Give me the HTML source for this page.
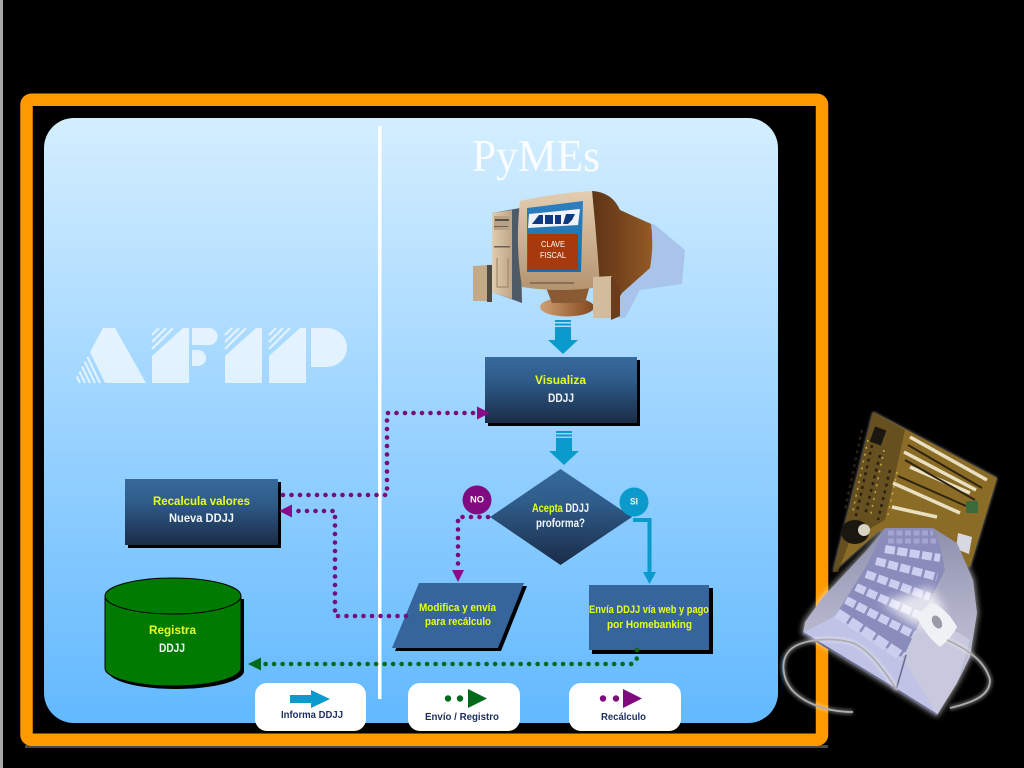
<!DOCTYPE html>
<html><head><meta charset="utf-8"><style>
html,body{margin:0;padding:0;background:#000;width:1024px;height:768px;overflow:hidden}
svg{display:block}
text{font-family:"Liberation Sans",sans-serif;font-weight:bold;font-size:12px;text-anchor:start}
.y{fill:#e8ff20}.w{fill:#f2f6fa}.n{fill:#1b2f5e}
</style></head><body>
<svg width="1024" height="768" viewBox="0 0 1024 768" xmlns="http://www.w3.org/2000/svg">
<defs>
<linearGradient id="pg" x1="0" y1="0" x2="0" y2="1"><stop offset="0" stop-color="#d4eeff"/><stop offset="1" stop-color="#62b9ff"/></linearGradient>
<linearGradient id="bx" x1="0" y1="0" x2="0" y2="1"><stop offset="0" stop-color="#366a9c"/><stop offset=".35" stop-color="#2f5c8a"/><stop offset="1" stop-color="#1a2c47"/></linearGradient>
<linearGradient id="mon" x1="0" y1="0" x2="0" y2="1"><stop offset="0" stop-color="#e4cdb0"/><stop offset="1" stop-color="#b4946f"/></linearGradient>
<linearGradient id="side" x1="0" y1="0" x2="1" y2="0"><stop offset="0" stop-color="#5e3417"/><stop offset=".45" stop-color="#74431c"/><stop offset="1" stop-color="#955a26"/></linearGradient>
<linearGradient id="scr" x1="0" y1="0" x2="0" y2="1"><stop offset="0" stop-color="#2d7fc0"/><stop offset="1" stop-color="#1a6fa8"/></linearGradient>
<linearGradient id="twr" x1="0" y1="0" x2="1" y2="0"><stop offset="0" stop-color="#e0ccb0"/><stop offset="1" stop-color="#bfa585"/></linearGradient>
<linearGradient id="stand" x1="0" y1="0" x2="1" y2="0"><stop offset="0" stop-color="#cfa072"/><stop offset="1" stop-color="#84471e"/></linearGradient>
<linearGradient id="rs" x1="0" y1="0" x2="0" y2="1"><stop offset="0" stop-color="#8e90ac"/><stop offset=".5" stop-color="#b4b4cc"/><stop offset="1" stop-color="#c8c8da"/></linearGradient>
<filter id="gl" x="-20%" y="-20%" width="140%" height="140%"><feGaussianBlur stdDeviation="3"/></filter>
<filter id="sf" x="-10%" y="-10%" width="120%" height="120%"><feGaussianBlur stdDeviation="1.6"/></filter>
<filter id="hz" x="-30%" y="-30%" width="160%" height="160%"><feGaussianBlur stdDeviation="5"/></filter>
</defs>
<rect width="1024" height="768" fill="#000"/>
<rect x="0" y="0" width="3" height="768" fill="#a8a8a8"/>
<rect x="25" y="745" width="803" height="3" fill="#4a4a4a"/>
<rect x="26.5" y="99.7" width="795.5" height="640" rx="5" fill="none" stroke="#ff9900" stroke-width="12.5"/>
<rect x="44" y="118" width="734" height="605" rx="30" fill="url(#pg)"/>
<rect x="378" y="126" width="3.5" height="573" fill="#fff"/>

<!-- AFIP watermark -->
<g fill="#fff" opacity=".68">
<polygon points="103,328 115,328 146,383 105,383 90,352"/>
<polygon points="152,356 183,328 189,328 189,383 152,383"/>
<path d="M192,328h17a8.5,8.5 0 0 1 0,17h-17zM192,350h6a8,8 0 0 1 0,16h-6z"/>
<polygon points="225,356 256,328 262,328 262,383 225,383"/>
<polygon points="269,356 300,328 306,328 306,383 269,383"/>
<path d="M311,328h16a20,19.5 0 0 1 0,39h-16z"/>
<g stroke="#fff" stroke-width="2.2" fill="none">
<path d="M100,383L87.300,356.800M95,383L84.700,361.600M90,383L82,366.500M85,383L79.400,371.300M80,383L76.700,376.200"/>
<path d="M152,335L159,328M152,342L166,328M152,349L173,328"/>
<path d="M225,335L232,328M225,342L239,328M225,349L246,328"/>
<path d="M269,335L276,328M269,342L283,328M269,349L290,328"/>
</g></g>

<!-- Title -->
<text x="472" y="171" textLength="128" lengthAdjust="spacingAndGlyphs" style="font-family:'Liberation Serif',serif;font-weight:normal;font-size:46px;fill:#fff;opacity:.9">PyMEs</text>

<!-- Computer -->
<polygon points="622,212 655,225 685,250 682,284 640,290 625,318 612,318" fill="#a8c4ea"/>
<path d="M492,213L520,208L522,303L492,292Z" fill="#4e5a66"/>
<path d="M492,213L512,210L512,299L492,292Z" fill="url(#twr)"/>
<rect x="494" y="216" width="16" height="14" fill="#b9a184"/>
<rect x="495" y="219" width="14" height="2" fill="#55504a"/>
<rect x="494" y="226" width="14" height="1" fill="#6a6058"/>
<rect x="494" y="246" width="16" height="1.5" fill="#6a6058"/>
<path d="M497,258V287H508V258" fill="none" stroke="#97805f" stroke-width="1"/>
<ellipse cx="567" cy="307" rx="27" ry="9.500" fill="url(#stand)"/>
<path d="M545,285H590L585,303H552Z" fill="#8a5a34"/>
<path d="M592,191Q612,192 620,210L651,224Q654,245 650,268L622,293L612,310L600,287Z" fill="url(#side)"/>
<path d="M520,201Q555,193 592,191Q597,240 600,287Q560,293 522,287Q515,245 520,201Z" fill="url(#mon)"/>
<polygon points="527,208 583,201 581,272 527,272" fill="url(#scr)"/>
<polygon points="529,214 580,209 578,225 528,228" fill="#f0f4fa"/>
<g fill="#0f3a80"><polygon points="532,224 539,215 543,215 543,224"/><rect x="545" y="215" width="8" height="9"/><rect x="555" y="215" width="6" height="9"/><polygon points="563,224 566,214 575,214 572,220 568,224"/></g>
<rect x="528" y="234" width="50" height="36" fill="#a63a0c"/>
<text x="541" y="247" textLength="24" lengthAdjust="spacingAndGlyphs" style="font-size:8.5px;font-weight:normal;fill:#fff">CLAVE</text>
<text x="540" y="258" textLength="26" lengthAdjust="spacingAndGlyphs" style="font-size:8.5px;font-weight:normal;fill:#fff">FISCAL</text>
<rect x="530" y="282" width="44" height="2" fill="#8a7058"/>
<polygon points="473,266 489,265 490,301 473,301" fill="#c2a988"/><rect x="487" y="265" width="5" height="37" fill="#4e4a42"/>
<polygon points="593,277 612,276 613,318 593,318" fill="#d2bc9e"/><polygon points="611,276 620,290 620,316 611,320" fill="#6c3d1c"/>

<!-- block arrows -->
<g fill="#0a9acb">
<rect x="555" y="320" width="16" height="2"/><rect x="555" y="323.5" width="16" height="2"/>
<polygon points="555,327 571,327 571,340 578,340 563,354 548,340 555,340"/>
<rect x="556" y="431" width="16" height="2"/><rect x="556" y="434.5" width="16" height="2"/>
<polygon points="556,438 572,438 572,451 579,451 564,465 549,451 556,451"/>
</g>

<!-- Visualiza -->
<rect x="488" y="360" width="152" height="66" fill="#000"/>
<rect x="485" y="357" width="152" height="66" fill="url(#bx)"/>
<text x="535" y="384" textLength="51" lengthAdjust="spacingAndGlyphs" class="y">Visualiza</text>
<text x="548" y="402" textLength="26" lengthAdjust="spacingAndGlyphs" class="w">DDJJ</text>

<!-- Recalcula -->
<rect x="128" y="482" width="153" height="66" fill="#000"/>
<rect x="125" y="479" width="153" height="66" fill="url(#bx)"/>
<text x="153" y="505" textLength="97" lengthAdjust="spacingAndGlyphs" class="y">Recalcula valores</text>
<text x="169" y="522" textLength="65" lengthAdjust="spacingAndGlyphs" class="w">Nueva DDJJ</text>

<!-- Diamond -->
<polygon points="560.5,469 632,517 560.5,565 490,517" fill="url(#bx)"/>
<text x="532" y="512" textLength="57" lengthAdjust="spacingAndGlyphs"><tspan class="y">Acepta</tspan><tspan class="w"> DDJJ</tspan></text>
<text x="536" y="527" textLength="49" lengthAdjust="spacingAndGlyphs" class="w">proforma?</text>

<circle cx="477" cy="500" r="14.5" fill="#800a80"/>
<text x="470" y="502.5" textLength="14" lengthAdjust="spacingAndGlyphs" style="font-size:9px" class="w">NO</text>
<circle cx="634" cy="502" r="14.5" fill="#0a9acb"/>
<text x="630" y="504.5" textLength="8" lengthAdjust="spacingAndGlyphs" style="font-size:9px" class="w">SI</text>

<!-- Parallelogram -->
<polygon points="422,586 527,586 501,651 395,651" fill="#000"/>
<polygon points="419,583 524,583 498,648 392,648" fill="#35659a"/>
<text x="419" y="611" textLength="77" lengthAdjust="spacingAndGlyphs" style="font-size:11px" class="y">Modifica y envía</text>
<text x="425" y="625" textLength="66" lengthAdjust="spacingAndGlyphs" style="font-size:11px" class="y">para recálculo</text>

<!-- Envia -->
<rect x="592" y="588" width="121" height="66" fill="#000"/>
<rect x="589" y="585" width="120" height="65" fill="#35659a"/>
<text x="589" y="613" textLength="120" lengthAdjust="spacingAndGlyphs" style="font-size:11px" class="y">Envía DDJJ vía web y pago</text>
<text x="607" y="628" textLength="85" lengthAdjust="spacingAndGlyphs" style="font-size:11px" class="y">por Homebanking</text>

<!-- Cylinder -->
<path d="M108,599V671A68,18 0 0 0 244,671V599Z" fill="#000"/>
<path d="M105,596V668A68,18 0 0 0 241,668V596Z" fill="#007a00" stroke="#000" stroke-width="1"/>
<ellipse cx="173" cy="596" rx="68" ry="18" fill="#007a00" stroke="#000" stroke-width="1"/>
<text x="149" y="634" textLength="47" lengthAdjust="spacingAndGlyphs" class="y">Registra</text>
<text x="159" y="652" textLength="26" lengthAdjust="spacingAndGlyphs" class="w">DDJJ</text>

<!-- Connectors -->
<g fill="none" stroke-width="4.6" stroke-linecap="round" stroke-dasharray="0 8.5">
<path d="M283,495H387V413H480" stroke="#7a0a7a"/>
<path d="M406,616H335V511H294" stroke="#7a0a7a"/>
<path d="M488,517H458V572" stroke="#7a0a7a"/>
<path d="M637,650V656Q637,664 630,664H262" stroke="#006a1a"/>
</g>
<polygon points="477,406.500 490,413 477,419.500" fill="#8a0a8a"/>
<polygon points="292,504.500 279,511 292,517.500" fill="#8a0a8a"/>
<polygon points="452,570 464,570 458,582" fill="#8a0a8a"/>
<polygon points="261,657.500 248,664 261,670.500" fill="#006a1a"/>
<path d="M633,520H649.5V574" fill="none" stroke="#0a9acb" stroke-width="4"/>
<polygon points="643,572 656,572 649.5,584" fill="#0a9acb"/>

<!-- Legend -->
<g fill="#fff">
<rect x="255" y="683" width="111" height="48" rx="12"/>
<rect x="408" y="683" width="112" height="48" rx="12"/>
<rect x="569" y="683" width="112" height="48" rx="12"/>
</g>
<polygon points="290,695 311,695 311,690 330,699 311,708 311,703 290,703" fill="#0a9acb"/>
<text x="281" y="718" textLength="62" lengthAdjust="spacingAndGlyphs" style="font-size:10.5px" class="n">Informa DDJJ</text>
<circle cx="448" cy="698.500" r="3.2" fill="#006a1a"/><circle cx="460" cy="698.500" r="3.2" fill="#006a1a"/>
<polygon points="468,689 487,698.500 468,708" fill="#006a1a"/>
<text x="425" y="720" textLength="74" lengthAdjust="spacingAndGlyphs" style="font-size:10.5px" class="n">Envío / Registro</text>
<circle cx="603" cy="698.500" r="3.2" fill="#800a80"/><circle cx="616" cy="698.500" r="3.2" fill="#800a80"/>
<polygon points="623,689 642,698.500 623,708" fill="#800a80"/>
<text x="601" y="720" textLength="45" lengthAdjust="spacingAndGlyphs" style="font-size:10.5px" class="n">Recálculo</text>

<!-- Motherboard + keyboard image -->
<g>
<polygon points="873,412 997,478 970,567 935,540 880,530 833,572" fill="#fff" opacity=".6" filter="url(#sf)"/>
<path d="M885,528L933,528L957,543L973,580L977,613L970,657L957,683L937,715L897,690L803,633L805,622L823,597L867,550Z" fill="#fff" opacity=".55" stroke="#fff" stroke-width="3" filter="url(#gl)"/>
<polygon points="873,412 997,478 970,567 935,540 880,530 833,572" fill="#8a6c26"/>
<polygon points="873,412 905,430 885,520 850,540 838,572 833,572" fill="#5e4a1e" opacity=".8"/>
<g fill="none" stroke="#2a2010" stroke-width="2.5" stroke-dasharray="3 4">
<path d="M872,445L855,520M880,455L865,515M890,470L878,520M862,430L845,510"/>
</g>
<g fill="none" stroke="#c8a84a" stroke-width="1.5" stroke-dasharray="2 5">
<path d="M868,440L852,515M884,450L870,518M897,472L888,515"/>
</g>
<g stroke="#e8e0c0" stroke-width="3.5" fill="none">
<path d="M910,437L987,480M910,467L970,493M893,483L960,513M892,507L937,517M904,452L976,490"/>
</g>
<g stroke="#2e2412" stroke-width="2" fill="none"><path d="M908,445L982,488M905,460L975,500M898,476L966,506"/></g>
<rect x="872" y="428" width="12" height="16" fill="#1a1610" transform="rotate(20 878 436)"/>
<ellipse cx="855" cy="532" rx="14" ry="12" fill="#1a1610"/>
<circle cx="864" cy="530" r="6" fill="#d8d4c4"/>
<rect x="966" y="501" width="12" height="12" fill="#3d6a3a"/>
<polygon points="958,533 972,537 969,554 956,549" fill="#d8d8e0"/>

<path d="M885,528L933,528L957,543L973,580L977,613L970,657L957,683L937,715L897,690L803,633L805,622L823,597L867,550Z" fill="url(#rs)"/>
<path d="M803,633L835,616L903,658L937,715L897,690Z" fill="#c0c2e6"/>
<polygon points="903,658 925,612 970,640 957,683 937,715" fill="#c8c8de"/>
<polygon points="885,528 933,528 940,545 945,570 925,610 903,658 835,616 867,565" fill="#8a8cbc"/>
<g fill="none" stroke-width="8" stroke="#ccceF0" stroke-dasharray="10 2.5">
<path d="M837,613L903,657" stroke-width="10" stroke-dasharray="13 2.5"/>
<path d="M846,600L914,635"/><path d="M856,587L923,617"/><path d="M866,574L930,597"/><path d="M876,561L937,577"/><path d="M885,549L940,558"/>
</g>
<g fill="none" stroke-width="5" stroke="#a4a6d0" stroke-dasharray="6 2.5">
<path d="M888,541H936M888,533H933"/>
</g>
<polygon points="882,603 930,587 945,610 917,628" fill="#fff" opacity=".75" filter="url(#hz)"/>
<path d="M917,617Q925,606 933,603Q948,610 957,627Q950,640 940,647Q925,635 917,617Z" fill="#f0f1f4"/>
<ellipse cx="937" cy="622" rx="4.500" ry="7" fill="#9a9aa8" transform="rotate(-30 937 622)"/>
<path d="M803,633L897,690L937,715" stroke="#6a6c8c" stroke-width="2" fill="none"/>
<path d="M896,690L906,655" stroke="#6a6c8c" stroke-width="1.500" fill="none"/>
<path d="M853,712C825,712 803,702 792,690C782,678 780,660 790,650C800,640 830,636 853,643C870,650 885,672 897,690M947,640C965,648 985,660 990,680C990,695 975,702 950,708" fill="none" stroke="#fff" stroke-width="5" opacity=".35" filter="url(#sf)"/>
<path d="M853,712C825,712 803,702 792,690C782,678 780,660 790,650C800,640 830,636 853,643C870,650 885,672 897,690M947,640C965,648 985,660 990,680C990,695 975,702 950,708" fill="none" stroke="#aeaeae" stroke-width="1.800"/>
</g>
</svg>
</body></html>
